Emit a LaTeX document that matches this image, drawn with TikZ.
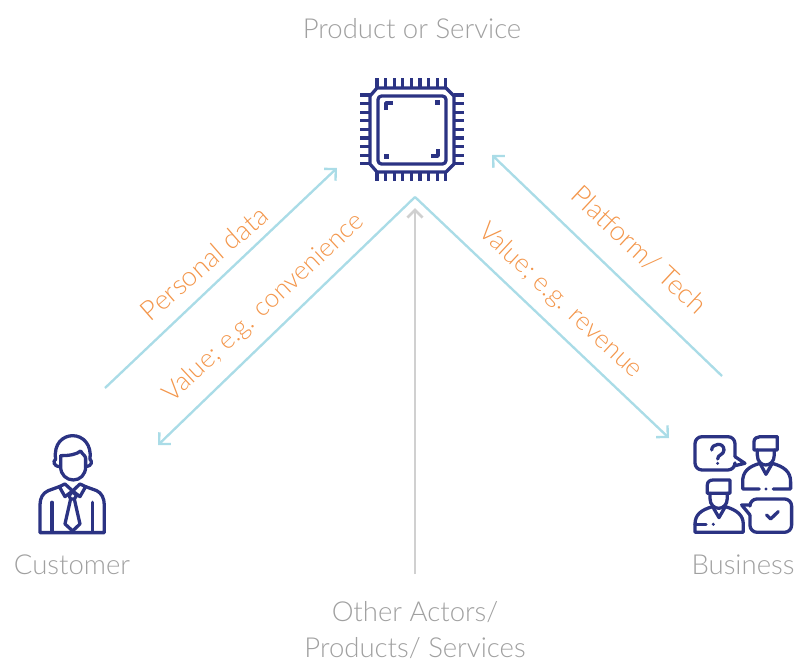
\documentclass[tikz,border=0pt]{standalone}
\usepackage{fontspec}
\setmainfont{Lato Light}
\definecolor{val_navy}{RGB}{43, 51, 131}
\definecolor{val_sky}{RGB}{170, 220, 231}
\definecolor{val_grey}{RGB}{208, 208, 208}
\definecolor{val_text}{RGB}{160, 160, 160}
\definecolor{val_orange}{RGB}{243, 150, 75}
\usetikzlibrary{arrows.meta}
\tikzset{
  caption/.style={font=\fontsize{23.5}{30.7}\selectfont, text=val_text, inner sep=0pt},
  flowlabel/.style={font=\fontsize{23.3}{28}\selectfont, text=val_orange, inner sep=0pt},
  flowlabelsmall/.style={flowlabel, font=\fontsize{22.2}{28}\selectfont},
  flowline/.style={val_sky, line width=2pt, -{Straight Barb[length=7pt,width=14pt,line width=2pt]}},
  otherline/.style={val_grey, line width=2.4pt, -{Straight Barb[length=6.5pt,width=13pt,line width=2.4pt]}},
  icon/.style={val_navy, line width=2.8pt, line join=round, line cap=round}
}
\begin{document}
\begin{tikzpicture}[x=0.03cm, y=-0.03cm]
  \useasboundingbox (0,0) rectangle (808,660);

  % Captions
  \node[caption] (product) at (412,29) {Product or Service};
  \node[caption] (customer) at (72,565) {Customer};
  \node[caption] (business) at (743,565) {Business};
  \node[caption, align=center] (others) at (415,630) {Other Actors/\\Products/ Services};

  % Arrow ends
  \coordinate (apex) at (415,197);
  \coordinate (otherEnd) at (415,208);
  \coordinate (dataStart) at (105,388);
  \coordinate (dataEnd) at (337,168);
  \coordinate (convEnd) at (158,445);
  \coordinate (revEnd) at (669,438);
  \coordinate (techStart) at (722,376);
  \coordinate (techEnd) at (492,155);
  \coordinate (otherStart) at (415,574);

  % Arrows
  \draw[flowline] (dataStart) -- (dataEnd);
  \draw[flowline] (apex) -- (convEnd);
  \draw[flowline] (apex) -- (revEnd);
  \draw[flowline] (techStart) -- (techEnd);
  \draw[otherline] (otherStart) -- (otherEnd);

  % Arrow labels
  \node[flowlabel, rotate=41] (dataLabel) at (204,263) {Personal data};
  \node[flowlabelsmall, rotate=43] (convLabel) at (264,308) {Value; e.g. convenience};
  \node[flowlabelsmall, rotate=-43] (revLabel) at (560,301) {Value; e.g. revenue};
  \node[flowlabel, rotate=-43] (techLabel) at (639,250) {Platform/ Tech};

  % Chip icon
  \begin{scope}[icon, line cap=butt]
    \draw (377,88) -- (446,88) -- (454,96) -- (454,164) -- (446,172) -- (377,172) -- (370,164) -- (370,96) -- cycle;
    \draw[rounded corners=3pt] (378,96) rectangle (446,164);
    \foreach \i in {0,...,8} {
      \draw (377+\i*8.6,78) -- (377+\i*8.6,88);
      \draw (377+\i*8.6,172) -- (377+\i*8.6,181);
      \draw (360,95+\i*8.6) -- (370,95+\i*8.6);
      \draw (454,95+\i*8.6) -- (464,95+\i*8.6);
    }
    \draw[line width=3.2pt] (386,110) -- (386,103) -- (393,103);
    \draw[line width=3.2pt] (438,149) -- (438,156) -- (431,156);
    \fill (435,100) rectangle (440,105);
    \fill (384,154) rectangle (389,159);
  \end{scope}

  % Customer icon
  \begin{scope}[shift={(20,425)}, x=0.01cm, y=-0.01cm, icon]
    \draw (107,103) .. controls (100,55) and (130,32) .. (158,32) .. controls (190,32) and (216,60) .. (210,103);
    \draw (122,92) .. controls (150,92) and (170,88) .. (182,78) .. controls (187,88) and (197,92) .. (197,100);
    \draw (122,92) -- (122,125) .. controls (122,150) and (140,165) .. (160,165) .. controls (180,165) and (197,150) .. (197,125) -- (197,100);
    \draw (107,103) .. controls (98,108) and (100,124) .. (120,125);
    \draw (210,103) .. controls (218,108) and (216,124) .. (198,125);
    \draw (118,185) -- (135,177) -- (158,198) -- (135,215) -- cycle;
    \draw (158,198) -- (180,177) -- (197,185) -- (180,215) -- cycle;
    \draw (118,185) -- (85,197) .. controls (68,204) and (60,220) .. (60,240) -- (60,323) -- (253,323) -- (253,240) .. controls (253,220) and (245,204) .. (230,197) -- (197,185);
    \draw (96,232) -- (96,322);
    \draw (218,232) -- (218,322);
    \draw (147,212) -- (158,200) -- (170,212) -- (163,222) -- (152,222) -- cycle;
    \draw (152,222) -- (135,297) -- (158,318) -- (180,297) -- (163,222);
  \end{scope}

  % Business icon
  \begin{scope}[shift={(680,425)}, x=0.01cm, y=-0.01cm, icon]
    % Question bubble
    \draw[rounded corners=6pt] (165,95) -- (165,35) -- (45,35) -- (45,135) -- (165,135) -- (165,122);
    \draw (165,95) -- (195,115) -- (165,122);
    \draw (95,75) .. controls (95,55) and (132,50) .. (132,75) .. controls (132,90) and (113,88) .. (113,102);
    \fill (113,115) circle (5);
    % Upper person
    \draw (222,75) -- (222,50) .. controls (222,40) and (232,35) .. (240,35) -- (292,35) -- (292,75) -- cycle;
    \draw (232,75) -- (232,90) .. controls (232,130) and (283,130) .. (283,90) -- (283,75);
    \draw (240,115) -- (258,148) -- (277,115);
    \draw (240,115) .. controls (205,125) and (188,140) .. (188,170) -- (188,192) -- (238,192);
    \draw (277,115) .. controls (312,125) and (332,140) .. (332,170) -- (332,192) -- (280,192);
    \fill (258,192) circle (5);
    % Lower person
    \draw (82,205) -- (82,180) .. controls (82,170) and (90,165) .. (100,165) -- (150,165) -- (150,205) -- cycle;
    \draw (90,205) -- (90,220) .. controls (90,260) and (142,260) .. (142,220) -- (142,205);
    \draw (98,245) -- (117,278) -- (136,245);
    \draw (98,245) .. controls (62,255) and (45,270) .. (45,298) -- (45,322) -- (190,322) -- (190,298) .. controls (190,270) and (170,255) .. (136,245);
    \draw (45,298) -- (78,298);
    \fill (100,298) circle (5);
    % Answer bubble
    \draw[rounded corners=6pt] (210,240) -- (210,222) -- (335,222) -- (335,322) -- (210,322) -- (210,270);
    \draw (210,240) -- (185,240) -- (210,270);
    \draw (260,270) -- (272,282) -- (295,260);
  \end{scope}
\end{tikzpicture}
\end{document}
